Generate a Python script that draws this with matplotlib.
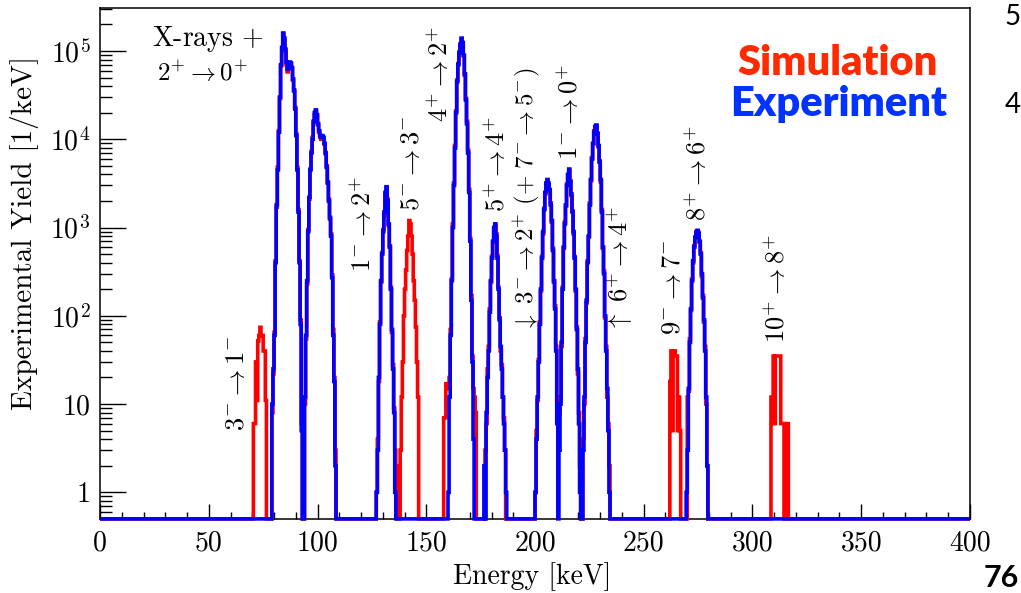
import numpy as np
import matplotlib
matplotlib.use("Agg")
import matplotlib.pyplot as plt
from matplotlib.ticker import FixedLocator, LogLocator, NullFormatter

plt.rcParams['font.family'] = 'cmr10'
plt.rcParams['mathtext.fontset'] = 'cm'
plt.rcParams['axes.unicode_minus'] = False

# espectro en bins de 0.5 keV; cada tramo empieza en la energia indicada (keV)
bin_width = 0.5
energy_edges = np.arange(0, 400 + bin_width, bin_width)

# experimento (azul)
exp_xray_start = 79.0
exp_xray = [10, 25, 60, 400, 1800, 4500, 12000, 30000, 70000, 110000,
            160000, 140000, 105000, 75000, 62000, 72000, 75000, 73000, 65000,
            48000, 36000, 22000, 11000, 4500, 1500, 400, 80, 5]
exp_xray2_start = 94.0
exp_xray2 = [12, 60, 250, 900, 2200, 4500, 7000, 10000, 16000, 20000, 21500,
             19000, 15000, 12500, 11000, 10500, 11000, 10500, 9000, 6900, 4800,
             3200, 2000, 1300, 800, 270, 60, 18, 2]
exp_1m2p_start = 127.0
exp_1m2p = [1, 3, 20, 80, 250, 500, 900, 1500, 2500, 2900, 2000, 1100, 600,
            200, 70, 25, 8, 1]
exp_4p2p_start = 160.0
exp_4p2p = [1, 12, 60, 250, 1000, 3000, 8000, 20000, 45000, 70000, 95000,
            120000, 140000, 125000, 90000, 55000, 28000, 15000, 7000, 2500,
            700, 150, 30, 4]
exp_5p4p_start = 176.5
exp_5p4p = [2, 0, 8, 20, 40, 110, 250, 450, 700, 1000, 1100, 800, 450, 200,
            90, 45, 25, 12, 6, 3, 1]
exp_200_start = 200.0
exp_200 = [1, 4, 12, 30, 80, 200, 450, 900, 1600, 2500, 3200, 3500, 3100,
           2700, 1800, 1200, 550, 250, 120, 40, 6, 0,
           3, 10, 50, 200, 600, 1100, 1800, 3000, 4000, 4600, 3300, 2400, 1500,
           900, 450, 200, 70, 25, 6, 1, 0, 0,
           3, 12, 50, 150, 400, 800, 1800, 3500, 6000, 9000, 12000, 14000,
           14500, 11500, 8500, 5500, 3500, 1500, 600, 300, 100, 40, 15, 5, 1]
exp_8p6p_start = 269.5
exp_8p6p = [1, 3, 15, 50, 120, 250, 420, 600, 780, 880, 930, 850, 700, 500,
            300, 160, 90, 40, 12, 2]

# simulacion (rojo)
sim_3m1m_start = 70.5
sim_3m1m = [6, 6, 30, 11, 52, 60, 74, 60, 60, 40, 40, 11]
sim_xray_start = 79.0
sim_xray = [8, 22, 65, 420, 1700, 4800, 12500, 29000, 68000, 105000,
            155000, 135000, 100000, 70000, 58000, 69000, 73000, 71000, 63000,
            47000, 35000, 23000, 11500, 4800, 1600, 420, 90, 6]
sim_xray2_start = 94.0
sim_xray2 = [10, 55, 230, 950, 2100, 4600, 7300, 10500, 15500, 19000, 20500,
             18000, 14500, 12000, 10500, 10000, 10500, 10000, 8800, 7100, 5000,
             3300, 2100, 1250, 850, 290, 70, 20, 3]
sim_1m2p_start = 127.0
sim_1m2p = [1, 4, 18, 85, 240, 520, 950, 1400, 2400, 2800, 2100, 1050, 620,
            210, 65, 28, 9, 3, 2]
sim_5m3m_start = 138.0
sim_5m3m = [3, 12, 30, 100, 200, 330, 550, 800, 1200, 1100, 800, 500, 250,
            150, 75, 30, 12]
sim_4p2p_start = 158.0
sim_4p2p = [7, 7, 17, 17, 15, 20, 70, 260, 1100, 3200, 8500, 21000, 47000,
            72000, 98000, 118000, 135000, 120000, 88000, 53000, 29000, 16000,
            7500, 2700, 750, 170, 35, 15, 12, 8]
sim_5p4p_start = 177.0
sim_5p4p = [3, 6, 25, 45, 120, 240, 470, 680, 950, 1050, 850, 480, 210, 95,
            40, 28, 12, 7, 3]
sim_200_start = 200.0
sim_200 = [1, 5, 11, 32, 85, 190, 470, 850, 1650, 2400, 3100, 3400, 3200,
           2600, 1900, 1150, 580, 240, 130, 45, 10, 6,
           8, 12, 45, 210, 580, 1150, 1750, 3100, 3900, 4400, 3400, 2300, 1550,
           850, 470, 190, 75, 22, 8, 2, 0, 0,
           4, 10, 55, 140, 420, 780, 1900, 3400, 6200, 8800, 12500, 13800,
           14000, 11800, 8200, 5700, 3300, 1600, 580, 320, 95, 45, 12, 6, 2]
sim_9m7m_start = 262.0
sim_9m7m = [18, 40, 5, 40, 40, 35, 35, 5, 12, 5]
sim_8p6p_start = 270.0
sim_8p6p = [12, 14, 55, 115, 260, 400, 620, 760, 900, 910, 880, 680, 520,
            280, 170, 85, 45, 10, 2]
sim_10p8p_start = 308.5
sim_10p8p = [12, 12, 35, 6, 35, 35, 35, 35, 35, 6, 6, 6, 0, 6, 6, 6]

exp_segments = [(exp_xray_start, exp_xray), (exp_xray2_start, exp_xray2),
                (exp_1m2p_start, exp_1m2p), (exp_4p2p_start, exp_4p2p),
                (exp_5p4p_start, exp_5p4p), (exp_200_start, exp_200),
                (exp_8p6p_start, exp_8p6p)]
sim_segments = [(sim_3m1m_start, sim_3m1m), (sim_xray_start, sim_xray),
                (sim_xray2_start, sim_xray2), (sim_1m2p_start, sim_1m2p),
                (sim_5m3m_start, sim_5m3m), (sim_4p2p_start, sim_4p2p),
                (sim_5p4p_start, sim_5p4p), (sim_200_start, sim_200),
                (sim_9m7m_start, sim_9m7m), (sim_8p6p_start, sim_8p6p),
                (sim_10p8p_start, sim_10p8p)]

y_min, y_max = 0.5, 3.07e5


def build_spectrum(segments):
    counts = np.zeros(len(energy_edges) - 1)
    for start, seg in segments:
        i0 = int(round(start / bin_width))
        counts[i0:i0 + len(seg)] = seg
    # bins vacios al fondo del eje log
    return np.where(counts > 0, counts, y_min)


sim_counts = build_spectrum(sim_segments)
exp_counts = build_spectrum(exp_segments)

fig = plt.figure(figsize=(10.21, 5.93), dpi=100)
ax = fig.add_axes([0.098, 0.125, 0.852, 0.8615])

ax.stairs(sim_counts, energy_edges, baseline=None, color='#ff0000', lw=2.6,
          clip_on=False, zorder=3)
ax.stairs(exp_counts, energy_edges, baseline=None, color='#0000ff', lw=2.6,
          clip_on=False, zorder=4)

ax.set_yscale('log')
ax.set_xlim(0, 400)
ax.set_ylim(y_min, y_max)

ax.set_xticks(np.arange(0, 401, 50))
ax.set_xticklabels([str(v) for v in range(0, 401, 50)])
ax.set_xticks(np.arange(0, 401, 10), minor=True)
y_ticks = [1, 10, 1e2, 1e3, 1e4, 1e5]
y_labels = ['1', '10', r'$10^{2}$', r'$10^{3}$', r'$10^{4}$', r'$10^{5}$']
ax.yaxis.set_major_locator(FixedLocator(y_ticks))
ax.set_yticklabels(y_labels)
ax.yaxis.set_minor_locator(LogLocator(base=10, subs=np.arange(2, 10), numticks=20))
ax.yaxis.set_minor_formatter(NullFormatter())

ax.tick_params(axis='both', which='both', direction='in', top=False, right=False,
               labelsize=20, width=1.0)
ax.tick_params(axis='x', which='major', length=10.8, pad=8)
ax.tick_params(axis='x', which='minor', length=5)
ax.tick_params(axis='y', which='major', length=18.7, pad=7)
ax.tick_params(axis='y', which='minor', length=8.6)
for sp in ax.spines.values():
    sp.set_linewidth(1.1)

ax.set_xlabel('Energy [keV]', fontsize=20, va='center')
ax.xaxis.set_label_coords(0.497, -0.113)
ax.set_ylabel('Experimental Yield [1/keV]', fontsize=21, va='center')
ax.yaxis.set_label_coords(-0.087, 0.56)

# etiquetas de las transiciones
label_size = 19
ax.text(24, 1.38e5, 'X-rays $+$', fontsize=20, va='center', ha='left')
ax.text(26, 5.6e4, r'$2^{+}\rightarrow 0^{+}$', fontsize=18,
        va='center', ha='left')

transitions = [
    (63.0, 5.0, r'$3^{-}\rightarrow 1^{-}$'),
    (120.8, 310, r'$1^{-}\rightarrow 2^{+}$'),
    (143.3, 1550, r'$5^{-}\rightarrow 3^{-}$'),
    (156.3, 1.55e4, r'$4^{+}\rightarrow 2^{+}$'),
    (182.3, 1480, r'$5^{+}\rightarrow 4^{+}$'),
    (196.2, 65, r'$\downarrow\ 3^{-}\rightarrow 2^{+}\ (+\ 7^{-}\rightarrow 5^{-})$'),
    (216.1, 5750, r'$1^{-}\rightarrow 0^{+}$'),
    (239.0, 65, r'$\uparrow\ 6^{+}\rightarrow 4^{+}$'),
    (263.5, 60, r'$9^{-}\rightarrow 7^{-}$'),
    (275.0, 1200, r'$8^{+}\rightarrow 6^{+}$'),
    (311.0, 49, r'$10^{+}\rightarrow 8^{+}$'),
]
for x, y, txt in transitions:
    size = 18 if txt.startswith(r'$\downarrow') else label_size
    ax.text(x, y, txt, rotation=90, fontsize=size, ha='center', va='bottom')

fig.text(0.820, 0.894, 'Simulation', color='#ff2a00', fontsize=30,
         fontfamily='Lato', fontweight='heavy', ha='center', va='center')
fig.text(0.821, 0.825, 'Experiment', color='#0033ff', fontsize=30,
         fontfamily='Lato', fontweight='heavy', ha='center', va='center')

# restos de la diapositiva
fig.text(0.984, 0.972, '5', fontsize=20, fontfamily='Lato', ha='left', va='center')
fig.text(0.984, 0.823, '4', fontsize=20, fontfamily='Lato', ha='left', va='center')
fig.text(0.998, 0.025, '76', fontsize=22, fontfamily='Lato', fontweight='bold',
         ha='right', va='center')

fig.savefig('out.png', dpi=100)
